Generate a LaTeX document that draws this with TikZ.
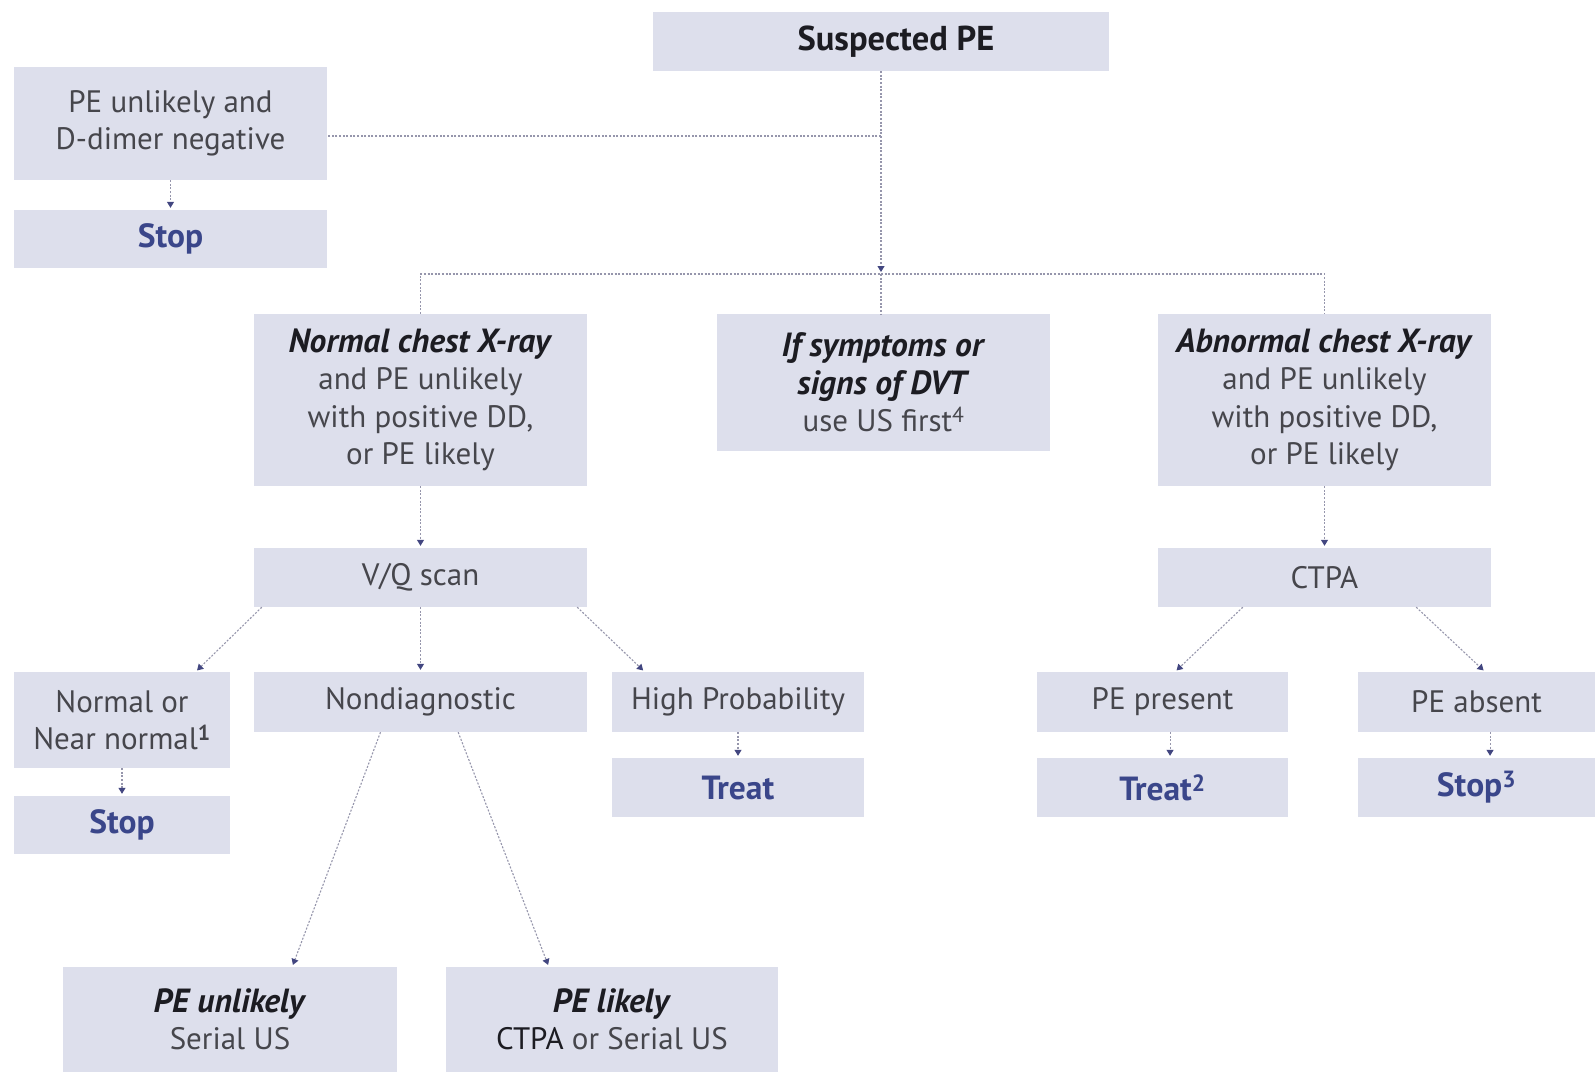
\documentclass[tikz,border=0pt]{standalone}
\usepackage{fontspec}
\setmainfont{PT Sans}
\usetikzlibrary{arrows.meta,calc}
\definecolor{boxfill}{RGB}{221,223,236}
\definecolor{txt}{RGB}{70,70,76}
\definecolor{dark}{RGB}{28,28,34}
\definecolor{bluet}{RGB}{58,70,138}
\definecolor{linec}{RGB}{150,150,172}
\definecolor{tipc}{RGB}{66,70,128}
\tikzset{
  box/.style={fill=boxfill, inner sep=0pt, align=center, text=txt,
    font=\fontsize{31}{37.5}\selectfont},
  hd/.style={font=\fontsize{34.5}{37.5}\selectfont\bfseries, text=dark},
  res/.style={font=\fontsize{33.5}{37.5}\selectfont\bfseries, text=bluet},
  conn/.style={draw=linec, line width=1.1pt, dash pattern=on 2pt off 1.6pt},
  arr/.style={conn, shorten >=2pt, -{Triangle[width=7pt,length=6pt,color=tipc]}},
}
\newcommand{\bi}[1]{\textcolor{dark}{\fontsize{33.5}{37.5}\selectfont\textbf{\textit{#1}}}}
\begin{document}
\begin{tikzpicture}[x=1pt,y=-1pt]
\useasboundingbox (0,0) rectangle (1595,1072);
\fill[white] (0,0) rectangle (1595,1072);

% boxes
\node[box, hd, minimum width=456, minimum height=59] (sus) at (881,41.5) {\hspace*{30pt}Suspected PE};
\node[box, minimum width=313, minimum height=113] (unl) at (170.5,123.5) {PE unlikely and\\D-dimer negative};
\node[box, res, minimum width=313, minimum height=58] (stopa) at (170.5,239) {Stop};

\node[box, minimum width=333, minimum height=172] (ncx) at (420.5,400)
  {\bi{Normal chest X-ray}\\and PE unlikely\\with positive DD,\\or PE likely};
\node[box, minimum width=333, minimum height=137] (sym) at (883.5,382.5)
  {\bi{If symptoms or}\\\bi{signs of DVT}\\use US first\textsuperscript{4}};
\node[box, minimum width=333, minimum height=172] (acx) at (1324.5,400)
  {\bi{Abnormal chest X-ray}\\and PE unlikely\\with positive DD,\\or PE likely};

\node[box, minimum width=333, minimum height=59] (vq) at (420.5,577.5) {V/Q scan};
\node[box, minimum width=333, minimum height=59] (ctpa) at (1324.5,577.5) {CTPA};

\node[box, minimum width=216, minimum height=96] (nn) at (122,720) {Normal or\\Near normal\textsuperscript{\textbf{1}}};
\node[box, res, minimum width=216, minimum height=58] (stopb) at (122,825) {Stop};
\node[box, minimum width=333, minimum height=60] (nd) at (420.5,702) {Nondiagnostic};
\node[box, minimum width=252, minimum height=60] (hp) at (738,702) {High Probability};
\node[box, res, minimum width=252, minimum height=59] (treata) at (738,787.5) {Treat};

\node[box, minimum width=251, minimum height=60] (pep) at (1162.5,702) {PE present};
\node[box, res, minimum width=251, minimum height=59] (treatb) at (1162.5,787.5) {Treat\textsuperscript{2}};
\node[box, minimum width=237, minimum height=60] (pea) at (1476.5,702) {PE absent};
\node[box, res, minimum width=237, minimum height=59] (stopc) at (1476.5,787.5) {Stop\textsuperscript{3}};

\node[box, minimum width=334, minimum height=105] (peu) at (230,1019.5) {\bi{PE unlikely}\\Serial US};
\node[box, minimum width=332, minimum height=105] (pel) at (612,1019.5) {\bi{PE likely}\\\textcolor{dark}{CTPA} or Serial US};

% junctions
\coordinate (j1) at (881,136);
\coordinate (j2) at (881,274);

% connectors
\draw[conn] (sus.south) -- (j1);
\draw[arr] (j1) -- (j2);
\draw[conn] (j1) -- (j1 -| unl.east);
\draw[conn] (ncx.north) -- (ncx.north |- j2) -- (acx.north |- j2) -- (acx.north);
\draw[conn] (j2) -- (j2 |- sym.north);

\draw[arr] (unl.south) -- (stopa.north);
\draw[arr] (ncx.south) -- (vq.north);
\draw[arr] (acx.south) -- (ctpa.north);

\draw[arr] ($(vq.south west)!0.024!(vq.south east)$) -- ($(nn.north west)!0.84!(nn.north east)$);
\draw[arr] (vq.south) -- (nd.north);
\draw[arr] ($(vq.south west)!0.97!(vq.south east)$) -- ($(hp.north west)!0.13!(hp.north east)$);
\draw[arr] (nn.south) -- (stopb.north);
\draw[arr] (hp.south) -- (treata.north);

\draw[arr] ($(nd.south west)!0.38!(nd.south east)$) -- ($(peu.north west)!0.686!(peu.north east)$);
\draw[arr] ($(nd.south west)!0.613!(nd.south east)$) -- ($(pel.north west)!0.31!(pel.north east)$);

\draw[arr] ($(ctpa.south west)!0.255!(ctpa.south east)$) -- ($(pep.north west)!0.55!(pep.north east)$);
\draw[arr] ($(ctpa.south west)!0.775!(ctpa.south east)$) -- ($(pea.north west)!0.536!(pea.north east)$);
\draw[arr] ($(pep.south west)!0.53!(pep.south east)$) -- ($(treatb.north west)!0.53!(treatb.north east)$);
\draw[arr] ($(pea.south west)!0.557!(pea.south east)$) -- ($(stopc.north west)!0.557!(stopc.north east)$);
\end{tikzpicture}
\end{document}
